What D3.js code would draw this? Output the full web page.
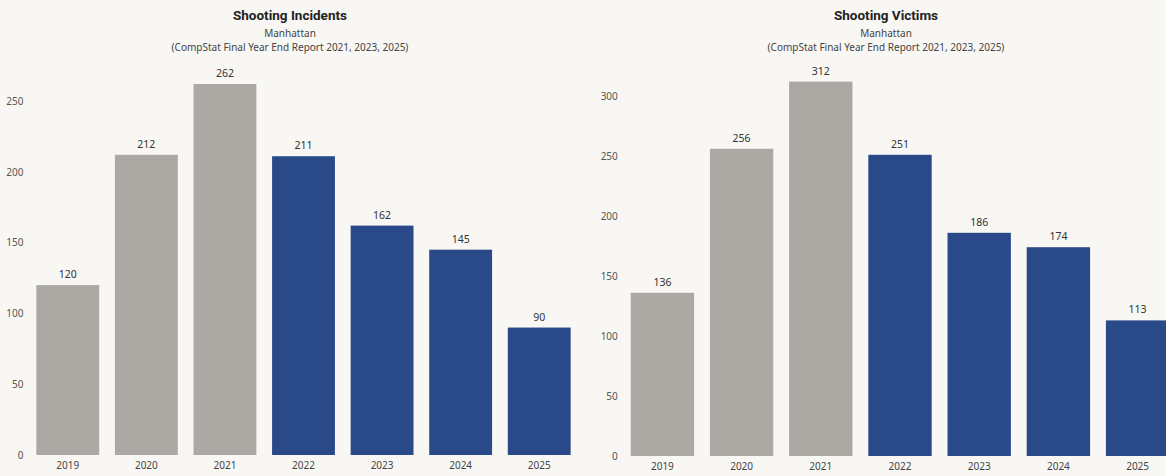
<!DOCTYPE html>
<html>
<head>
<meta charset="utf-8">
<script src="https://cdn.jsdelivr.net/npm/d3@7"></script>
<style>
  html, body { margin: 0; padding: 0; background: #f8f7f3; }
  svg { display: block; }
  .title { font-family: Roboto, "Noto Sans", sans-serif; font-weight: 700; font-size: 13.5px; fill: #222; }
  .sub { font-family: "Noto Sans", "Open Sans", sans-serif; font-size: 10px; fill: #444; }
  .tick text { font-family: "Noto Sans", "Open Sans", sans-serif; font-size: 10px; fill: #555; }
  .val { font-family: "Noto Sans", "Open Sans", sans-serif; font-size: 10.5px; fill: #333; }
</style>
</head>
<body>
<script>
// Years shown on both panels
const years = ["2019", "2020", "2021", "2022", "2023", "2024", "2025"];
// Manhattan shooting incidents per year
const incidents = [120, 212, 262, 211, 162, 145, 90];
// Manhattan shooting victims per year
const victims = [136, 256, 312, 251, 186, 174, 113];
// Y-axis tick values for each panel
const incidentTicks = [0, 50, 100, 150, 200, 250];
const victimTicks = [0, 50, 100, 150, 200, 250, 300];
// Years drawn in the highlighted (blue) colour
const highlightYears = ["2022", "2023", "2024", "2025"];

const W = 1166, H = 476;
const GRAY = "#aaa9a4", BLUE = "#2a4989";

const svg = d3.select("body").append("svg").attr("width", W).attr("height", H);

function panel(cfg) {
  const g = svg.append("g");
  const x = d3.scaleBand().domain(years).range(cfg.xRange).paddingInner(0.2).paddingOuter(0.1);
  const y = d3.scaleLinear().domain(cfg.yDomain).range(cfg.yRange);

  // titles
  g.append("text").attr("class", "title").attr("x", cfg.cx).attr("y", 20)
    .attr("text-anchor", "middle").text(cfg.title);
  g.append("text").attr("class", "sub").attr("x", cfg.cx).attr("y", 37)
    .attr("text-anchor", "middle").text("Manhattan");
  g.append("text").attr("class", "sub").attr("x", cfg.cx).attr("y", 51)
    .attr("text-anchor", "middle").text("(CompStat Final Year End Report 2021, 2023, 2025)");

  // y axis (labels only)
  const yAxis = g.append("g").attr("transform", `translate(${cfg.xRange[0] + 4},0)`)
    .call(d3.axisLeft(y).tickValues(cfg.ticks).tickSize(0).tickPadding(9));
  yAxis.select(".domain").remove();

  // x axis (labels only)
  const xAxis = g.append("g").attr("transform", `translate(0,${cfg.yRange[0]})`)
    .call(d3.axisBottom(x).tickSize(0).tickPadding(7));
  xAxis.select(".domain").remove();
  xAxis.selectAll(".tick text").style("fill", "#444");

  // bars
  g.selectAll("rect.bar").data(years.map((yr, i) => ({ yr, v: cfg.values[i] })))
    .join("rect").attr("class", "bar")
    .attr("x", d => x(d.yr)).attr("width", x.bandwidth())
    .attr("y", d => y(d.v)).attr("height", d => y(0) - y(d.v))
    .attr("fill", d => highlightYears.includes(d.yr) ? BLUE : GRAY);

  // value labels
  g.selectAll("text.val").data(years.map((yr, i) => ({ yr, v: cfg.values[i] })))
    .join("text").attr("class", "val")
    .attr("x", d => x(d.yr) + x.bandwidth() / 2)
    .attr("y", d => y(d.v) - 7)
    .attr("text-anchor", "middle").text(d => d.v);
}

panel({
  title: "Shooting Incidents", cx: 290, values: incidents, ticks: incidentTicks,
  xRange: [28.5, 578.5], yDomain: [0, 280], yRange: [455, 455 - 280 * 1.416]
});
panel({
  title: "Shooting Victims", cx: 886, values: victims, ticks: victimTicks,
  xRange: [622.8, 1177.2], yDomain: [0, 330], yRange: [456, 456 - 330 * 1.2]
});
</script>
</body>
</html>
